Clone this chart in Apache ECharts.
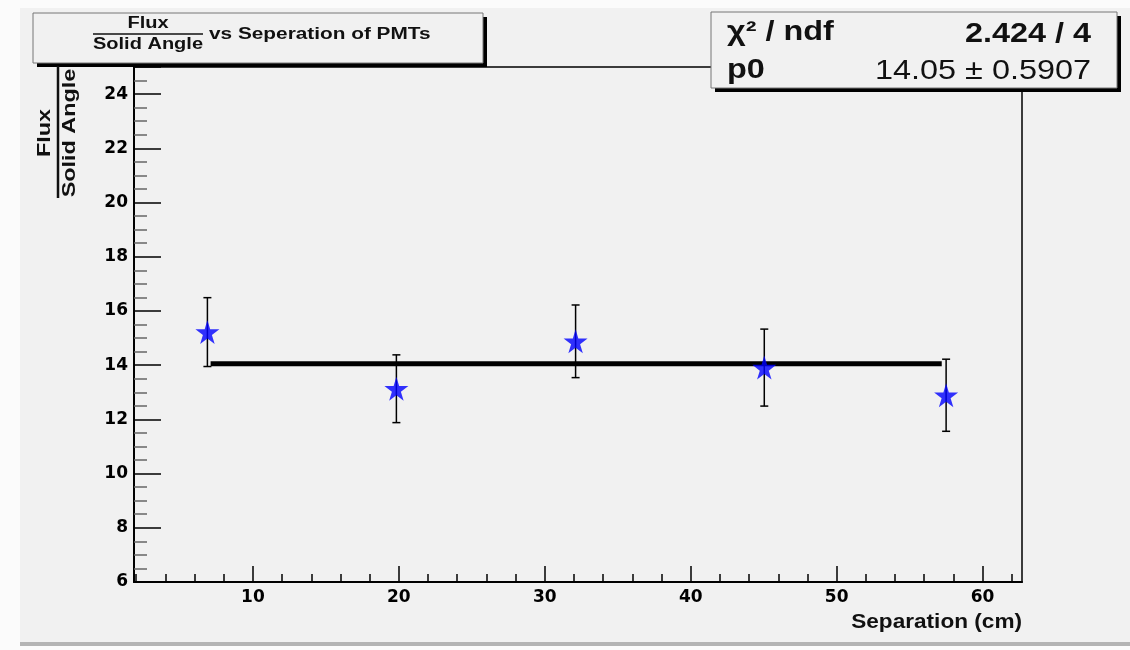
<!DOCTYPE html>
<html>
<head>
<meta charset="utf-8">
<script src="https://cdn.jsdelivr.net/npm/echarts@6/dist/echarts.min.js"></script>
<style>html,body{margin:0;padding:0;background:#f1f1f1;}#c{width:1130px;height:650px;}</style>
</head>
<body>
<div id="c"></div>
<script>
// ---- data ----
const separation = [6.88, 19.83, 32.11, 45.04, 57.5];      // cm
const fluxPerSolidAngle = [15.22, 13.13, 14.88, 13.91, 12.89];
const fluxError = [1.27, 1.25, 1.34, 1.42, 1.33];
const fitRangeX = [7.1, 57.2];
const fitP0 = 14.05;
const xRange = [1.85, 62.7];
const yRange = [6, 25];
const xTickLabels = [10, 20, 30, 40, 50, 60];
const xMinorTicks = [2, 4, 6, 8, 12, 14, 16, 18, 22, 24, 26, 28, 32, 34, 36, 38, 42, 44, 46, 48, 52, 54, 56, 58, 62];
const yTickLabels = [6, 8, 10, 12, 14, 16, 18, 20, 22, 24];
const statsRows = [["χ² / ndf", "2.424 / 4"], ["p0", "14.05 ± 0.5907"]];

const FONT = '"Liberation Sans", Arial, sans-serif';
const AXFONT = '"DejaVu Sans", sans-serif';
const STAR = 'path://M50,0 L61,35 L98,35 L68,57 L79,91 L50,70 L21,91 L32,57 L2,35 L39,35 Z';

const pts = separation.map((x, i) => [x, fluxPerSolidAngle[i], fluxError[i]]);
const fitData = fitRangeX.map(x => [x, fitP0]);

function txt(x, y, text, size, weight, align, sx, rot) {
  return {type: 'text', z: 102, x: x, y: y, rotation: rot || 0, scaleX: sx || 1,
    style: {x: 0, y: 0, text: text, fontFamily: FONT, fontSize: size, fontWeight: weight, fill: '#111', align: align, verticalAlign: 'middle'}};
}

const chart = echarts.init(document.getElementById('c'), null, {renderer: 'canvas'});
chart.setOption({
  backgroundColor: '#f1f1f1',
  animation: false,
  grid: {left: 134, right: 108, top: 67, bottom: 68, show: true, borderColor: '#000', borderWidth: 1.5, backgroundColor: 'transparent'},
  xAxis: [{
    type: 'value', min: xRange[0], max: xRange[1],
    axisLine: {lineStyle: {color: '#000', width: 2}},
    axisTick: {inside: true, length: 16, customValues: xTickLabels, lineStyle: {color: '#000', width: 1.5}},
    splitLine: {show: false},
    axisLabel: {color: '#000', fontFamily: AXFONT, fontWeight: 'bold', fontSize: 17, margin: 7, customValues: xTickLabels}
  }, {
    type: 'value', min: xRange[0], max: xRange[1], position: 'bottom', gridIndex: 0,
    axisLine: {show: false},
    axisTick: {inside: true, length: 8, customValues: xMinorTicks, lineStyle: {color: '#000', width: 1.5}},
    splitLine: {show: false},
    axisLabel: {show: false}
  }],
  yAxis: {
    type: 'value', min: yRange[0], max: yRange[1], interval: 2,
    axisLine: {lineStyle: {color: '#000', width: 2}},
    axisTick: {inside: true, length: 27, lineStyle: {color: '#000', width: 1.5}},
    minorTick: {show: true, splitNumber: 4, length: 13, lineStyle: {color: '#666', width: 1.5}},
    splitLine: {show: false},
    axisLabel: {color: '#000', fontFamily: AXFONT, fontWeight: 'bold', fontSize: 17, margin: 6, customValues: yTickLabels}
  },
  series: [
    {
      type: 'custom', z: 2,
      renderItem: function (params, api) {
        const x = api.value(0), y = api.value(1), e = api.value(2);
        const t = api.coord([x, y + e]), b = api.coord([x, y - e]);
        const st = {stroke: '#000', lineWidth: 1.5};
        return {type: 'group', children: [
          {type: 'line', shape: {x1: t[0], y1: t[1], x2: b[0], y2: b[1]}, style: st},
          {type: 'line', shape: {x1: t[0] - 4, y1: t[1], x2: t[0] + 4, y2: t[1]}, style: st},
          {type: 'line', shape: {x1: b[0] - 4, y1: b[1], x2: b[0] + 4, y2: b[1]}, style: st}
        ]};
      },
      encode: {x: 0, y: 1},
      data: pts
    },
    {
      type: 'line', z: 3, data: fitData, symbol: 'none',
      lineStyle: {color: '#000', width: 5}
    },
    {
      type: 'scatter', z: 4, data: pts.map(p => [p[0], p[1]]),
      symbol: STAR, symbolSize: 24, itemStyle: {color: '#0000ff'}
    }
  ],
  graphic: [
    // canvas bevel
    {type: 'rect', left: 0, top: 0, z: -1, shape: {width: 20, height: 650}, style: {fill: '#fbfbfb'}, silent: true},
    {type: 'rect', left: 0, top: 0, z: -1, shape: {width: 1130, height: 8}, style: {fill: '#fbfbfb'}, silent: true},
    {type: 'rect', left: 20, top: 642, z: -1, shape: {width: 1110, height: 4}, style: {fill: '#b4b4b4'}, silent: true},
    {type: 'rect', left: 0, top: 646, z: -1, shape: {width: 1130, height: 4}, style: {fill: '#fbfbfb'}, silent: true},
    // title box
    {type: 'rect', z: 100, shape: {x: 37, y: 17, width: 450, height: 50}, style: {fill: '#000'}},
    {type: 'rect', z: 101, shape: {x: 33, y: 13, width: 450, height: 50}, style: {fill: '#f1f1f1', stroke: '#777', lineWidth: 1}},
    txt(148, 24, 'Flux', 16, 'bold', 'center', 1.25),
    {type: 'line', z: 102, shape: {x1: 93, y1: 34, x2: 203, y2: 34}, style: {stroke: '#111', lineWidth: 1.5}},
    txt(148, 45, 'Solid Angle', 16, 'bold', 'center', 1.25),
    txt(209, 35, 'vs Seperation of PMTs', 16, 'bold', 'left', 1.3),
    // stats box
    {type: 'rect', z: 100, shape: {x: 715, y: 16, width: 406, height: 76}, style: {fill: '#000'}},
    {type: 'rect', z: 101, shape: {x: 711, y: 12, width: 406, height: 76}, style: {fill: '#f1f1f1', stroke: '#777', lineWidth: 1}},
    txt(727, 33, statsRows[0][0], 27, 'bold', 'left', 1.2),
    txt(1091, 35, statsRows[0][1], 27, 'bold', 'right', 1.2),
    txt(727, 71, statsRows[1][0], 27, 'bold', 'left', 1.2),
    txt(1091, 72, statsRows[1][1], 27, 'normal', 'right', 1.2),
    // y axis title (rotated fraction)
    txt(45, 133, 'Flux', 18, 'bold', 'center', 1.3, Math.PI / 2),
    {type: 'line', z: 102, shape: {x1: 58, y1: 66, x2: 58, y2: 198}, style: {stroke: '#111', lineWidth: 2.5}},
    txt(70, 133, 'Solid Angle', 18, 'bold', 'center', 1.3, Math.PI / 2),
    // x axis title
    txt(1022, 622, 'Separation (cm)', 20, 'bold', 'right', 1.13)
  ]
});
</script>
</body>
</html>
